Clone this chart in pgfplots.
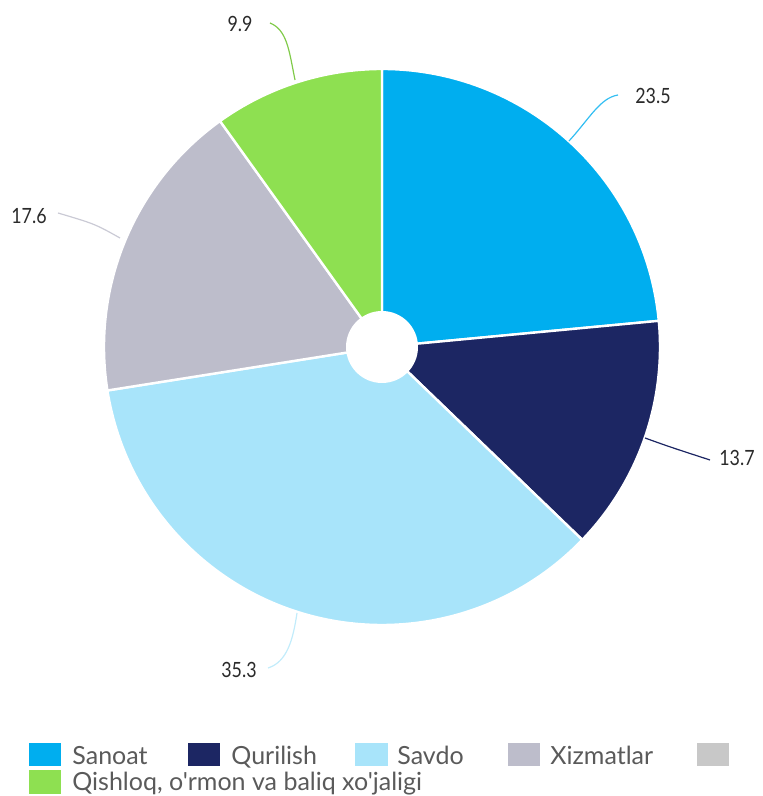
\documentclass[border=0pt]{standalone}
\usepackage{pgfplots}
\pgfplotsset{compat=1.18}
\usepackage{pgfplotstable}
\usepackage{fontspec}
\setmainfont{Lato}[Ligatures=TeXOff]
\newfontfamily\numfont{Lato}[FakeStretch=0.85]
\definecolor{cSan}{HTML}{00AEEF}
\definecolor{cQur}{HTML}{1C2663}
\definecolor{cSav}{HTML}{A8E4FA}
\definecolor{cXiz}{HTML}{BDBDCB}
\definecolor{cQis}{HTML}{8EE051}
\definecolor{cGry}{HTML}{C8C8C8}
\definecolor{labtext}{HTML}{2A2A2A}
\definecolor{legtext}{HTML}{5A5A5A}

\pgfplotstableread{
value color
23.5 cSan
13.7 cQur
35.3 cSav
17.6 cXiz
9.9 cQis
}\piedata

\begin{document}
\begin{tikzpicture}
\begin{axis}[x=0.5pt,y=0.5pt,xmin=0,xmax=762,ymin=-796,ymax=0,hide axis,clip=false]
\coordinate (bl) at (axis cs:0,-796);
\coordinate (tr) at (axis cs:762,0);
\def\cumval{0}
\pgfplotsforeachungrouped \i in {0,...,4}{%
  \pgfplotstablegetelem{\i}{value}\of\piedata \let\sliceval=\pgfplotsretval
  \pgfplotstablegetelem{\i}{color}\of\piedata \let\slicecol=\pgfplotsretval
  \pgfmathsetmacro\angA{90-3.6*\cumval}
  \pgfmathsetmacro\angB{90-3.6*(\cumval+\sliceval)}
  \edef\temp{\noexpand\fill[fill=\slicecol,draw=white,line width=1.2pt,line join=round] (axis cs:382,-347) -- ++(\angA:139pt) arc[start angle=\angA,end angle=\angB,radius=139pt] -- cycle;}%
  \temp
  \pgfmathsetmacro\cumval{\cumval+\sliceval}
}
\fill[white] (axis cs:382,-347) circle[radius=18pt];

% leader lines
\draw[cSan!80!white, line width=0.6pt] (axis cs:569,-141) .. controls (axis cs:590,-118) and (axis cs:600,-98) .. (axis cs:618,-95);
\draw[cQur, line width=0.6pt] (axis cs:645,-438) .. controls (axis cs:670,-447) .. (axis cs:710,-460);
\draw[cSav!70!white, line width=0.6pt] (axis cs:297,-613) .. controls (axis cs:293,-640) and (axis cs:287,-662) .. (axis cs:268,-668);
\draw[cXiz!80!white, line width=0.6pt] (axis cs:120,-238) .. controls (axis cs:95,-224) .. (axis cs:58,-213);
\draw[cQis!90!black, line width=0.6pt] (axis cs:295,-80) .. controls (axis cs:289,-50) and (axis cs:287,-30) .. (axis cs:270,-23);

% value labels
\begin{scope}[every node/.style={font=\numfont\fontsize{10.5}{12}\selectfont, text=labtext, inner sep=0pt}]
\node at (axis cs:653,-96) {23.5};
\node at (axis cs:737,-458) {13.7};
\node at (axis cs:239,-670) {35.3};
\node at (axis cs:29,-216) {17.6};
\node at (axis cs:240,-24) {9.9};
\end{scope}

% legend
\fill[cSan] (axis cs:29,-743) rectangle (axis cs:61,-766);
\fill[cQur] (axis cs:188,-743) rectangle (axis cs:220,-766);
\fill[cSav] (axis cs:355,-743) rectangle (axis cs:388,-766);
\fill[cXiz] (axis cs:508,-743) rectangle (axis cs:540,-766);
\fill[cGry] (axis cs:697,-743) rectangle (axis cs:729,-766);
\fill[cQis] (axis cs:29,-770) rectangle (axis cs:61,-794);
\begin{scope}[every node/.style={font=\fontsize{12.5}{14}\selectfont, text=legtext, inner sep=0pt, anchor=base west}]
\node at (axis cs:72,-765) {Sanoat};
\node at (axis cs:231,-765) {Qurilish};
\node at (axis cs:397,-765) {Savdo};
\node at (axis cs:550,-765) {Xizmatlar};
\node at (axis cs:72,-791) {Qishloq, o'rmon va baliq xo'jaligi};
\end{scope}
\end{axis}
\pgfresetboundingbox
\path (bl) rectangle (tr);
\end{tikzpicture}
\end{document}
